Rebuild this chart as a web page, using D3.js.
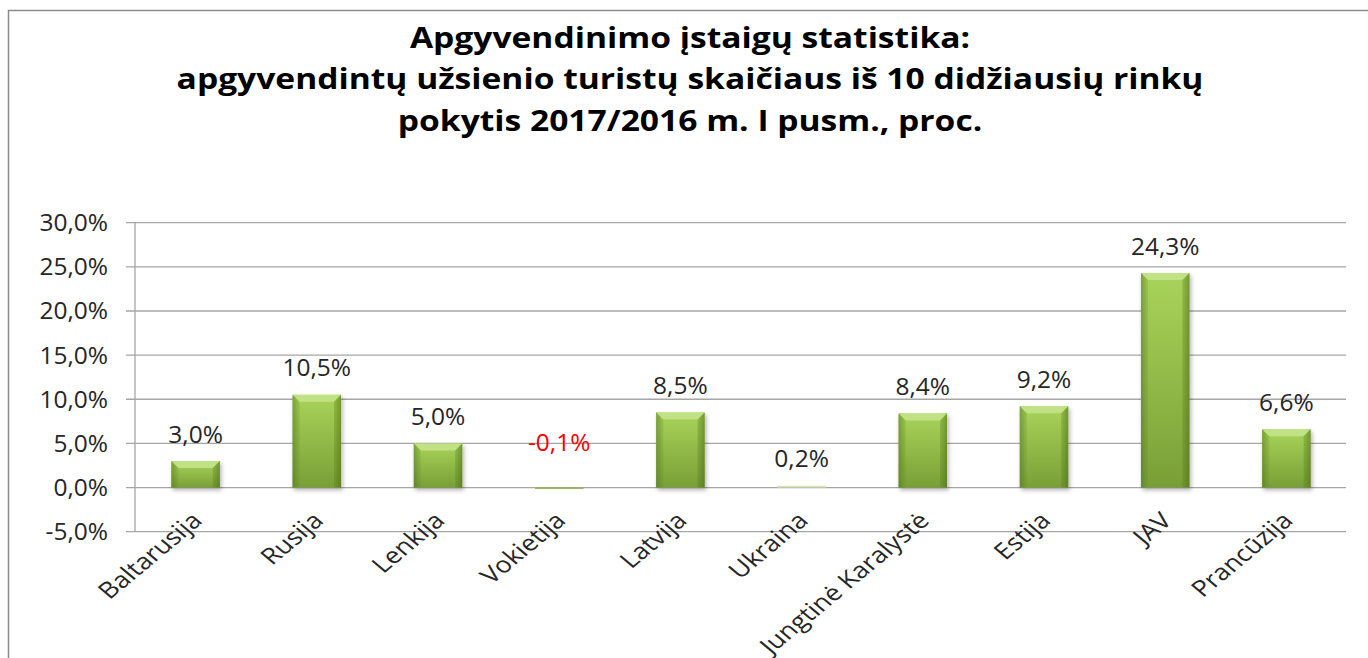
<!DOCTYPE html>
<html><head><meta charset="utf-8">
<script src="https://cdn.jsdelivr.net/npm/d3@7/dist/d3.min.js"></script>
<style>body{margin:0;background:#fff}svg{display:block}</style>
</head><body>
<script>
const titleLines = ["Apgyvendinimo įstaigų statistika:", "apgyvendintų užsienio turistų skaičiaus iš 10 didžiausių rinkų", "pokytis 2017/2016 m. I pusm., proc."];
const categories = ["Baltarusija","Rusija","Lenkija","Vokietija","Latvija","Ukraina","Jungtinė Karalystė","Estija","JAV","Prancūzija"];
const values = [3.0, 10.5, 5.0, -0.1, 8.5, 0.2, 8.4, 9.2, 24.3, 6.6];
const yTicks = [-5, 0, 5, 10, 15, 20, 25, 30];

const W = 1368, H = 658;
const font = "'Open Sans', sans-serif";
const svg = d3.select("body").append("svg").attr("width", W).attr("height", H);
const defs = svg.append("defs");

const gV = defs.append("linearGradient").attr("id","gv").attr("x1",0).attr("y1",0).attr("x2",0).attr("y2",1);
gV.append("stop").attr("offset",0).attr("stop-color","#a9d45a");
gV.append("stop").attr("offset",1).attr("stop-color","#789f36");
const gH = defs.append("linearGradient").attr("id","gh").attr("x1",0).attr("y1",0).attr("x2",1).attr("y2",0);
gH.append("stop").attr("offset",0).attr("stop-color","#3d5a12").attr("stop-opacity",0.35);
gH.append("stop").attr("offset",0.12).attr("stop-color","#3d5a12").attr("stop-opacity",0.0);
gH.append("stop").attr("offset",0.88).attr("stop-color","#3d5a12").attr("stop-opacity",0.0);
gH.append("stop").attr("offset",1).attr("stop-color","#3d5a12").attr("stop-opacity",0.35);
const f = defs.append("filter").attr("id","sh").attr("x","-30%").attr("y","-30%").attr("width","160%").attr("height","160%");
f.append("feDropShadow").attr("dx",1.5).attr("dy",2.5).attr("stdDeviation",2).attr("flood-color","#000").attr("flood-opacity",0.3);

// outer border
svg.append("path").attr("d", `M8.5,${H} V10.5 H${W}`).attr("fill","none").attr("stroke","#8c8c8c").attr("stroke-width",1.5);

// title (horizontally widened like the reference)
const title = svg.append("g").attr("transform","translate(690,0) scale(1.2,1)")
  .append("text").attr("text-anchor","middle")
  .attr("font-family", font).attr("font-weight", 700).attr("font-size", 28).attr("fill","#000");
titleLines.forEach((t,i) => title.append("tspan").attr("x",0).attr("y", 48 + i*41.5).text(t));

const x = d3.scaleBand().domain(categories).range([135, 1347]).paddingInner(0.6).paddingOuter(0.3);
const y = d3.scaleLinear().domain([-5, 30]).range([531.7, 222.7]);

// gridlines
svg.append("g").selectAll("line").data(yTicks).join("line")
  .attr("x1",126).attr("x2",1346).attr("y1",d=>y(d)).attr("y2",d=>y(d))
  .attr("stroke","#a6a6a6").attr("stroke-width",1.3);
// y axis line
svg.append("line").attr("x1",135).attr("x2",135).attr("y1",y(30)).attr("y2",y(-5)).attr("stroke","#a6a6a6").attr("stroke-width",1.3);

// y tick labels
const fmt = d => d3.format(".1f")(d).replace(".", ",").replace("−","-") + "%";
svg.append("g").selectAll("text").data(yTicks).join("text")
  .attr("x",108).attr("y",d=>y(d)+8.5).attr("text-anchor","end")
  .attr("font-family",font).attr("font-size",24.5).attr("fill","#262626").text(fmt);

// bars
const bars = svg.append("g").selectAll("g").data(values).join("g");
bars.each(function(v,i){
  const g = d3.select(this);
  const x0 = x(categories[i]), bw = x.bandwidth();
  const yt = y(Math.max(v,0)), yb = y(Math.min(v,0));
  const h = Math.max(yb-yt, 1.3);
  const top = v>=0 ? Math.min(yt, y(0)-1.3) : y(0);
  const col = (v>0 && v<1) ? "#d4e4b0" : null;
  const grp = g.append("g").attr("filter", h>4 ? "url(#sh)" : null);
  grp.append("rect").attr("x",x0).attr("y",top).attr("width",bw).attr("height",h)
     .attr("fill", col ? col : (h>4 ? "url(#gv)" : "#8ab446"));
  if (h > 4) {
    grp.append("rect").attr("x",x0).attr("y",top).attr("width",bw).attr("height",h).attr("fill","url(#gh)");
    const b = 7;
    grp.append("path").attr("d",`M${x0},${top} H${x0+bw} L${x0+bw-b},${top+b} H${x0+b} Z`).attr("fill","#c3e38a").attr("opacity",0.9);
    grp.append("path").attr("d",`M${x0},${top} L${x0+b},${top+b} V${top+h} H${x0} Z`).attr("fill","#5f8a22").attr("opacity",0.25);
    grp.append("path").attr("d",`M${x0+bw},${top} L${x0+bw-b},${top+b} V${top+h} H${x0+bw} Z`).attr("fill","#4f7418").attr("opacity",0.3);
  }
});

// data labels
svg.append("g").selectAll("text").data(values).join("text")
  .attr("x",(d,i)=>x(categories[i])+x.bandwidth()/2)
  .attr("y",d=> d>=0 ? y(d)-18.5 : y(0)-37)
  .attr("text-anchor","middle").attr("font-family",font).attr("font-size",24.5)
  .attr("fill",d=> d<0 ? "#ff0000" : "#262626").text(fmt);

// category labels (widened horizontally like the reference)
svg.append("g").selectAll("text").data(categories).join("text")
  .attr("transform",d=>`translate(${x(d)+x.bandwidth()/2+8},${522}) scale(1.2,1) rotate(-45)`)
  .attr("text-anchor","end").attr("font-family",font).attr("font-size",22.5).attr("fill","#262626").text(d=>d);
</script>
</body></html>
